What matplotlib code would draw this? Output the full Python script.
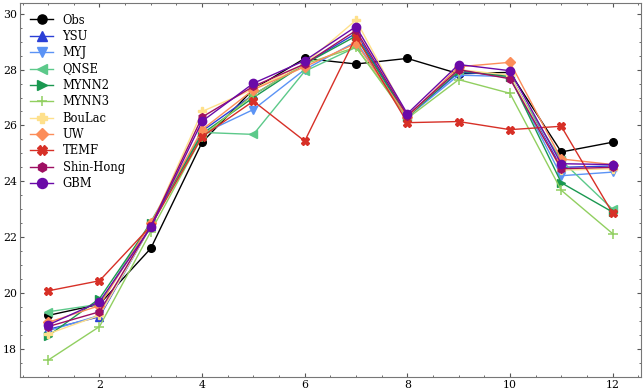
import numpy as np
import matplotlib
matplotlib.use('Agg')
import matplotlib.pyplot as plt
from matplotlib.ticker import AutoMinorLocator

# months
x = np.arange(1, 13)

obs       = [19.2, 19.6, 21.6, 25.4, 27.3, 28.4, 28.2, 28.4, 27.85, 27.9, 25.05, 25.4]
ysu       = [18.7, 19.15, 22.4, 25.8, 27.1, 28.2, 29.3, 26.3, 27.9, 27.8, 24.5, 24.55]
myj       = [18.65, 19.2, 22.4, 25.7, 26.57, 28.0, 29.0, 26.3, 27.8, 27.75, 24.2, 24.33]
qnse      = [19.33, 19.6, 22.55, 25.75, 25.68, 27.94, 28.8, 26.3, 28.0, 27.7, 24.75, 23.0]
mynn2     = [18.47, 19.8, 22.5, 25.7, 27.0, 28.2, 29.2, 26.3, 27.95, 27.75, 23.95, 22.9]
mynn3     = [17.6, 18.8, 22.2, 25.6, 27.1, 28.2, 28.8, 26.25, 27.64, 27.15, 23.68, 22.13]
boulac    = [18.54, 19.2, 22.4, 26.5, 27.3, 28.2, 29.77, 26.35, 28.0, 27.8, 24.4, 24.45]
uw        = [18.95, 19.55, 22.5, 25.85, 27.28, 28.1, 28.94, 26.3, 28.1, 28.26, 24.8, 24.6]
temf      = [20.08, 20.44, 22.4, 25.6, 26.87, 25.44, 29.18, 26.1, 26.14, 25.85, 25.97, 22.86]
shinhong  = [18.8, 19.33, 22.4, 26.3, 27.4, 28.2, 29.4, 26.35, 28.0, 27.67, 24.45, 24.5]
gbm       = [18.86, 19.69, 22.35, 26.15, 27.51, 28.32, 29.54, 26.42, 28.18, 27.96, 24.63, 24.6]

plt.rcParams['font.family'] = 'DejaVu Serif'
plt.rcParams['font.size'] = 8

fig = plt.figure(figsize=(6.44, 3.92), dpi=100)
ax = fig.add_axes([0.031, 0.038, 0.964, 0.954])

lw = 1.0
ax.plot(x, obs, color='black', marker='o', lw=lw, ms=5.5, label='Obs')
ax.plot(x, ysu, color='#2b3fd6', marker='^', lw=lw, ms=5.5, label='YSU')
ax.plot(x, myj, color='#5b93f5', marker='v', lw=lw, ms=5.5, label='MYJ')
ax.plot(x, qnse, color='#5cc98a', marker='<', lw=lw, ms=5.5, label='QNSE')
ax.plot(x, mynn2, color='#1a9850', marker='>', lw=lw, ms=5.5, label='MYNN2')
ax.plot(x, mynn3, color='#91cf60', marker='+', lw=lw, ms=6.5, mew=1.1, label='MYNN3')
ax.plot(x, boulac, color='#fee08b', marker='P', lw=lw, ms=5.5, label='BouLac')
ax.plot(x, uw, color='#fc8d59', marker='D', lw=lw, ms=5, label='UW')
ax.plot(x, temf, color='#d73027', marker='X', lw=lw, ms=6, label='TEMF')
ax.plot(x, shinhong, color='#9e0f62', marker='h', lw=lw, ms=5.5, label='Shin-Hong')
ax.plot(x, gbm, color='#6a0aa8', marker='o', lw=lw, ms=6, label='GBM')

ax.set_xticks([2, 4, 6, 8, 10, 12])
ax.set_yticks([18, 20, 22, 24, 26, 28, 30])
ax.xaxis.set_minor_locator(AutoMinorLocator(4))
ax.yaxis.set_minor_locator(AutoMinorLocator(4))
ax.tick_params(which='both', direction='in', top=True, right=True, colors='#555555',
               labelcolor='black', pad=2, labelsize=7.8)
ax.tick_params(which='major', length=3)
ax.tick_params(which='minor', length=1.5)
for s in ax.spines.values():
    s.set_color('#777777')

ax.legend(loc='upper left', frameon=False, fontsize=8.3, handlelength=2.0,
          labelspacing=0.29, borderaxespad=0.5, markerscale=1.2)

fig.savefig('out.png', dpi=100)
